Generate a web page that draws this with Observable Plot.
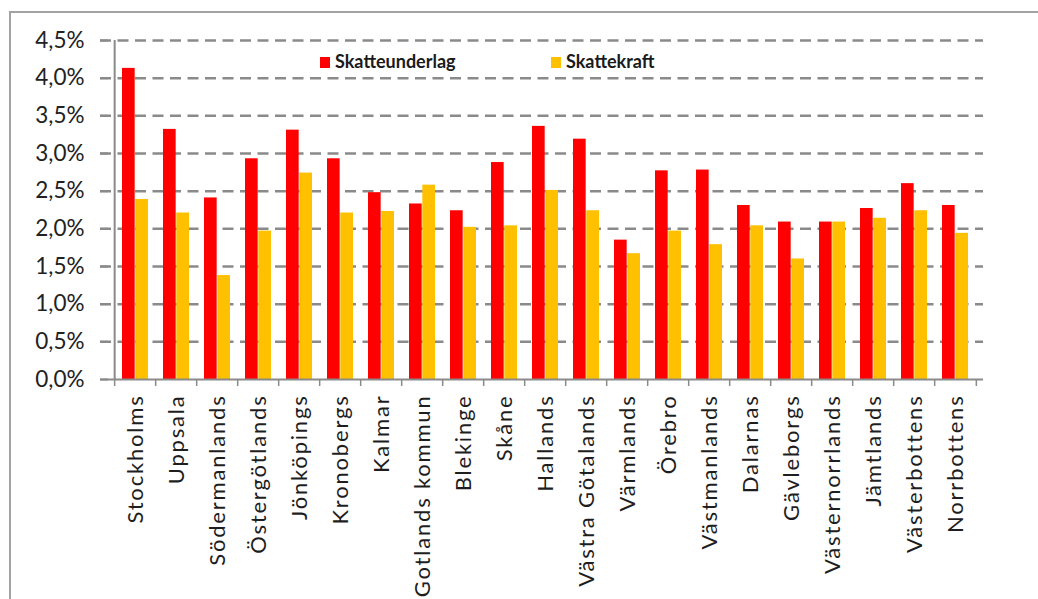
<!DOCTYPE html>
<html><head><meta charset="utf-8">
<script src="https://cdn.jsdelivr.net/npm/d3@7"></script>
<script src="https://cdn.jsdelivr.net/npm/@observablehq/plot@0.6"></script>
<style>
body{margin:0;background:#fff;font-family:Lato,sans-serif}
#wrap{position:relative;width:1038px;height:599px;overflow:hidden;background:#fff}
#border{position:absolute;left:9px;top:11px;width:1200px;height:800px;border:2px solid #a3a3a3}
#chart{position:absolute;left:0;top:0}
#chart g[aria-label="x-axis tick label"]{letter-spacing:1.8px}
.item{position:absolute;white-space:nowrap;font:bold 18px Lato,sans-serif;color:#1a1a1a;line-height:18px}
.sw{position:absolute;width:10px;height:11px}
</style></head><body>
<div id="wrap"><div id="border"></div><div id="chart"></div>
<div class="sw" style="left:320px;top:57px;background:#ff0000"></div>
<div class="item" style="left:335px;top:52px">Skatteunderlag</div>
<div class="sw" style="left:551px;top:57px;background:#ffc000"></div>
<div class="item" style="left:566px;top:52px">Skattekraft</div>
</div>
<script>
const categories = ["Stockholms","Uppsala","Södermanlands","Östergötlands","Jönköpings","Kronobergs","Kalmar","Gotlands kommun","Blekinge","Skåne","Hallands","Västra Götalands","Värmlands","Örebro","Västmanlands","Dalarnas","Gävleborgs","Västernorrlands","Jämtlands","Västerbottens","Norrbottens"];
const skatteunderlag = [4.13,3.32,2.41,2.93,3.31,2.93,2.48,2.33,2.24,2.88,3.36,3.19,1.85,2.77,2.78,2.31,2.09,2.09,2.27,2.60,2.31];
const skattekraft = [2.39,2.21,1.38,1.97,2.74,2.21,2.23,2.58,2.02,2.04,2.51,2.24,1.67,1.97,1.79,2.04,1.60,2.09,2.14,2.24,1.94];
const yTicks = [0,0.5,1,1.5,2,2.5,3,3.5,4,4.5];
const colors = {skatteunderlag:"#ff0000", skattekraft:"#ffc000"};

const rows = categories.map((c,i)=>({region:c, su:skatteunderlag[i], sk:skattekraft[i]}));

const W=1038, H=599, mL=108, mR=55, mT=40, mB=220;
const step=(W-mL-mR)/categories.length;
const pIn=0.36;
const bw=step*(1-pIn);
const gray="#8a8a8a";
const fmt=d=>d.toFixed(1).replace(".",",")+"%";

const chart = Plot.plot({
  width:W, height:H, marginLeft:mL, marginRight:mR, marginTop:mT, marginBottom:mB,
  style:{fontFamily:"Lato, sans-serif", background:"transparent"},
  x:{domain:categories, paddingInner:pIn, paddingOuter:pIn/2, axis:null},
  y:{domain:[0,4.5], axis:null},
  marks:[
    Plot.ruleY(yTicks.filter(v=>v>0), {y:d=>d, stroke:gray, strokeWidth:2.5, strokeDasharray:"11,6.5", insetLeft:-8}),
    Plot.barY(rows, {x:"region", y:"su", fill:colors.skatteunderlag, insetRight:bw/2}),
    Plot.barY(rows, {x:"region", y:"sk", fill:colors.skattekraft, insetLeft:bw/2}),
    Plot.ruleY([0], {y:d=>d, stroke:gray, strokeWidth:2, insetLeft:-8}),
    Plot.axisY({ticks:yTicks, tickFormat:fmt, tickSize:8, tickPadding:16, fontSize:22.5, stroke:gray, strokeWidth:2, fill:"#222", label:null}),
    Plot.axisX({tickSize:7, tickFormat:()=>"", dx:-step/2, stroke:gray, strokeWidth:1.5, label:null}),
    Plot.axisX({ticks:[categories[categories.length-1]], tickSize:7, tickFormat:()=>"", dx:step/2, stroke:gray, strokeWidth:1.5, label:null}),
    Plot.ruleX([categories[0]], {x:d=>d, y1:0, y2:4.5, dx:-step/2, stroke:gray, strokeWidth:2}),
    Plot.axisX({tickSize:0, tickRotate:-90, tickPadding:15, fontSize:22, fill:"#1e1e1e", label:null})
  ]
});
document.getElementById("chart").appendChild(chart);
</script>
</body></html>
